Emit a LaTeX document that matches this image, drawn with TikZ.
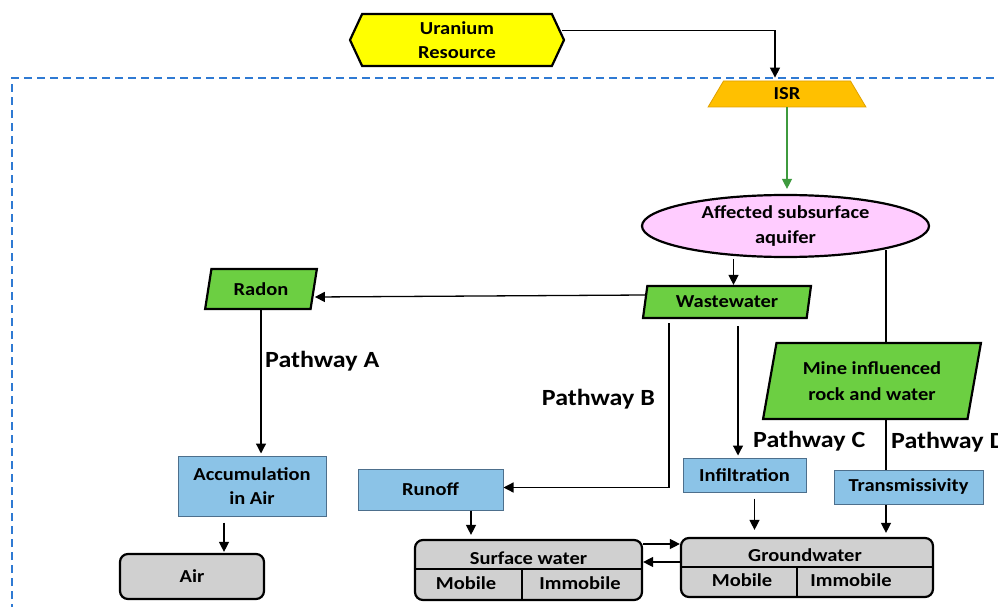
\documentclass[tikz,border=0pt]{standalone}
\usepackage{fontspec}
\setmainfont{Carlito}[FakeStretch=1.12]
\usetikzlibrary{shapes.geometric,shapes.symbols,arrows.meta,backgrounds,calc}
\definecolor{uyellow}{HTML}{FFFF00}
\definecolor{isrorange}{HTML}{FFC000}
\definecolor{isrborder}{HTML}{E0A000}
\definecolor{aqpink}{HTML}{FFCCFF}
\definecolor{pgreen}{HTML}{6CCF42}
\definecolor{bblue}{HTML}{8BC3E7}
\definecolor{bborder}{HTML}{4D6F8C}
\definecolor{ggray}{HTML}{D0D0D0}
\definecolor{frameblue}{HTML}{2F7AD3}
\definecolor{arrgreen}{HTML}{3E9A3E}
\tikzset{
  boxfont/.style={font=\fontsize{18.3}{24.5}\selectfont\bfseries},
  hexa/.style={signal, signal to=west and east, signal pointer angle=130, draw=black, line width=2.2pt, fill=uyellow, boxfont, align=center, inner sep=0pt},
  isrshape/.style={trapezium, trapezium left angle=75, trapezium right angle=75, trapezium stretches=true, draw=isrborder, line width=0.8pt, fill=isrorange, boxfont, inner sep=0pt},
  aqshape/.style={ellipse, draw=black, line width=2.2pt, fill=aqpink, boxfont, align=center, inner sep=0pt},
  para/.style={trapezium, trapezium stretches=true, draw=black, line width=2.2pt, fill=pgreen, boxfont, align=center, inner sep=0pt},
  bbox/.style={rectangle, draw=bborder, line width=1pt, fill=bblue, boxfont, align=center, inner sep=0pt},
  gbox/.style={rectangle, rounded corners=8pt, draw=black, line width=2.2pt, fill=ggray, boxfont, align=center, inner sep=0pt},
  txt/.style={boxfont, inner sep=0pt},
  plabel/.style={font=\fontsize{23.2}{27}\selectfont\bfseries, inner sep=0pt},
  arr/.style={draw=black, line width=1.3pt, -{Triangle[length=10pt,width=10pt]}},
  dashframe/.style={draw=frameblue, line width=1.6pt, dash pattern=on 8pt off 5pt}
}
\begin{document}
\begin{tikzpicture}[x=1pt,y=-1pt]
\useasboundingbox (0,0) rectangle (998,607);
% dashed frame
\draw[dashframe] (12,612) -- (12,78) -- (1010,78);
% nodes
\node[hexa, minimum width=214pt, minimum height=52pt] (ur) at (457,40) {Uranium\\Resource};
\node[isrshape, minimum width=158pt, minimum height=26pt] (isr) at (787,94) {ISR};
\node[aqshape, minimum width=287pt, minimum height=62pt] (aq) at (785.5,226) {Affected subsurface\\aquifer};
\node[para, trapezium left angle=77, trapezium right angle=103, minimum width=168pt, minimum height=32pt] (ww) at (727,302) {Wastewater};
\node[para, trapezium left angle=75, trapezium right angle=105, minimum width=112pt, minimum height=40pt] (rad) at (261,289) {Radon};
\node[para, trapezium left angle=76, trapezium right angle=104, minimum width=218pt, minimum height=76pt, font=\fontsize{18.3}{26}\selectfont\bfseries] (mine) at (872,381) {Mine influenced\\rock and water};
\node[bbox, minimum width=148pt, minimum height=60pt] (acc) at (252,486) {Accumulation\\in Air};
\node[bbox, minimum width=145pt, minimum height=41pt] (run) at (430.5,489.5) {Runoff};
\node[bbox, minimum width=123pt, minimum height=34pt] (inf) at (744.5,475) {Infiltration};
\node[bbox, minimum width=149pt, minimum height=34pt] (tr) at (908.5,487) {Transmissivity};
\node[gbox, minimum width=144pt, minimum height=45pt] (air) at (192,576.5) {Air};
\node[gbox, minimum width=227pt, minimum height=60pt] (sw) at (528.5,570) {};
\node[gbox, minimum width=252pt, minimum height=59pt] (gw) at (807,567.5) {};
% split lines
\draw[line width=1.6pt] (sw.west |- 0,569) -- (sw.east |- 0,569);
\draw[line width=1.6pt] (522,569) -- (sw.south -| 522,0);
\draw[line width=1.6pt] (gw.west |- 0,567) -- (gw.east |- 0,567);
\draw[line width=1.6pt] (797,567) -- (gw.south -| 797,0);
% split texts
\node[txt, anchor=base] (swh) at (528.5,564) {Surface water};
\node[txt, anchor=base] (swm) at (466,589) {Mobile};
\node[txt, anchor=base] (swi) at (580,589) {Immobile};
\node[txt, anchor=base] (gwh) at (805,561) {Groundwater};
\node[txt, anchor=base] (gwm) at (742,586) {Mobile};
\node[txt, anchor=base] (gwi) at (851,586) {Immobile};
% pathway labels
\node[plabel, anchor=base west] (pa) at (265,367) {Pathway A};
\node[plabel, anchor=base east] (pb) at (655,405) {Pathway B};
\node[plabel, anchor=base west] (pc) at (753,447) {Pathway C};
\node[plabel, anchor=base west] (pd) at (891,448) {Pathway D};
% connectors
\draw[arr, shorten >=3pt] ([xshift=-3pt,yshift=9.5pt]ur.east) -| ([xshift=-12pt]isr.north);
\draw[arr, draw=arrgreen, color=arrgreen, shorten >=5pt] (isr.south) -- (isr.south |- aq.north);
\draw[arr] ([xshift=-52pt,yshift=-1pt]aq.south) -- ([xshift=-52pt]aq.south |- ww.north);
\draw[arr] ([xshift=1pt,yshift=7pt]ww.west) -- ([yshift=-8pt]rad.east);
\draw[arr, shorten >=2pt] (rad.south) -- (rad.south |- acc.north);
\draw[arr, shorten >=1pt] ([xshift=-28pt,yshift=-6pt]acc.south) -- ([xshift=-28pt]acc.south |- air.north);
\draw[arr] ([xshift=-58pt,yshift=-4pt]ww.south) |- ([yshift=2pt]run.east);
\draw[arr, shorten >=2pt] ([xshift=11pt,yshift=-7pt]ww.south) -- ([xshift=11pt]ww.south |- inf.north);
\draw[arr, shorten >=4pt] ([xshift=40.5pt]run.south) -- ([xshift=40.5pt]run.south |- sw.north);
\draw[arr, shorten >=7pt] ([xshift=10pt,yshift=-6pt]inf.south) -- ([xshift=10pt]inf.south |- gw.north);
\draw[arr] ([yshift=26pt]sw.east) -- ([yshift=26pt]sw.east -| gw.west);
\draw[arr] ([yshift=5.5pt]gw.west) -- ([yshift=5.5pt]gw.west -| sw.east);
\begin{pgfonlayer}{background}
\draw[arr, shorten >=4pt] ([xshift=100.5pt]aq.center |- 0,250) -- ([xshift=100.5pt]aq.center |- gw.north);
\end{pgfonlayer}
\end{tikzpicture}
\end{document}
